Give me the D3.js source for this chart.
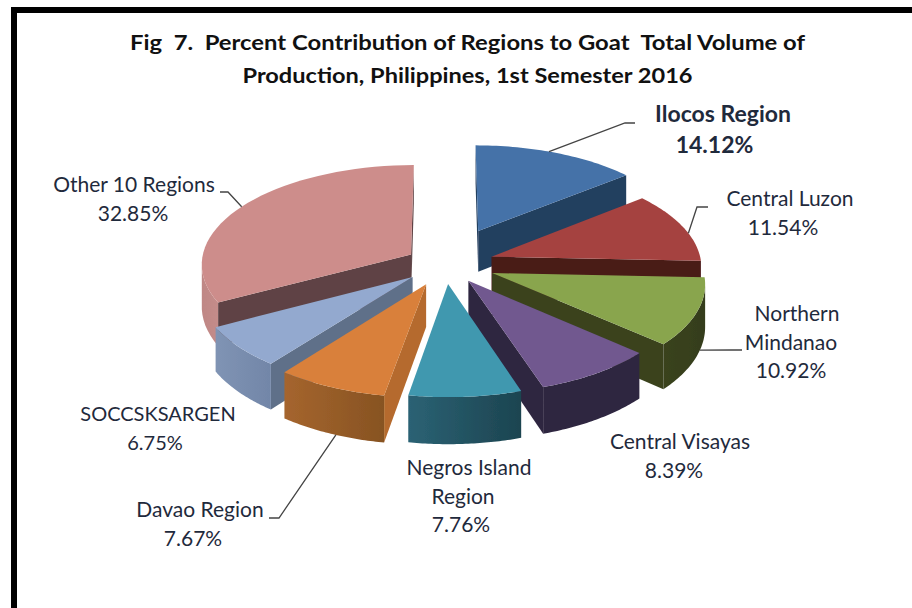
<!DOCTYPE html>
<html>
<head>
<meta charset="utf-8">
<script src="https://cdn.jsdelivr.net/npm/d3@7"></script>
<style>
  html, body { margin: 0; padding: 0; background: #fff; overflow: hidden; }
  text { font-family: Lato, "Open Sans", sans-serif; fill: #1f2a3c; white-space: pre; }
</style>
</head>
<body>
<div id="chart"></div>
<script>
let width = 912
let height = 608

// data, clockwise from 12 o'clock
const regions = ["Ilocos Region", "Central Luzon", "Northern Mindanao", "Central Visayas",
                 "Negros Island Region", "Davao Region", "SOCCSKSARGEN", "Other 10 Regions"];
const shares = [14.12, 11.54, 10.92, 8.39, 7.76, 7.67, 6.75, 32.85];
const titleLines = ["Fig  7.  Percent Contribution of Regions to Goat  Total Volume of",
                    "Production, Philippines, 1st Semester 2016"];

// look of each slice: top, wall light end, wall dark end, end-cut wall
const topColors  = ["#4472a8", "#a54340", "#89a54e", "#71588f", "#4198af", "#d9803a", "#93a9cf", "#cd8d8b"];
const wallFrom   = ["#243f5f", "#4a1a18", "#3a431f", "#2e2540", "#2b6274", "#a5652e", "#8094b4", "#bf8785"];
const wallTo     = ["#243f5f", "#4a1a18", "#353d1c", "#2e2540", "#1c4450", "#875322", "#7286a8", "#c48c8a"];
const cutColors  = ["#243f5f", "#4a1a18", "#3a431f", "#2e2540", "#245462", "#b56b2d", "#5f7089", "#5e4344"];

// pulled out distance of each slice, and painter order (back to front)
const explode = [0.38, 0.235, 0.24, 0.2, 0.2, 0.22, 0.2, 0.19];
const paintOrder = [7, 0, 1, 6, 2, 5, 3, 4];

// projection of the tilted disc
const cx = 445, cy = 264, rx = 210, ry = 99, persp = 0.09, depth = 42;

function project(x, d, h) {
  let w = 1 - persp * d;
  return [cx + rx * x / w, cy + (ry * d + depth * h) / w];
}

const pie = d3.pie().sort(null).value(d => d)
const arcs = pie(shares)

// a point of slice i: radius r at angle a, h=0 top face, h=1 bottom
function slicePoint(i, r, a, h) {
  let mid = (arcs[i].startAngle + arcs[i].endAngle) / 2
  let x = explode[i] * Math.sin(mid) + r * Math.sin(a)
  let d = -explode[i] * Math.cos(mid) - r * Math.cos(a)
  return project(x, d, h)
}

function rimAngles(i) {
  return d3.range(0, 41).map(k => arcs[i].startAngle + (arcs[i].endAngle - arcs[i].startAngle) * k / 40)
}

const line = d3.line()

const svg = d3.select("#chart").append("svg")
  .attr("width", width)
  .attr("height", height)

let defs = svg.append("defs")
defs.append("filter").attr("id", "soft")
  .attr("x", "-5%").attr("y", "-5%").attr("width", "110%").attr("height", "110%")
  .append("feGaussianBlur").attr("stdDeviation", 0.5)

svg.append("rect").attr("width", width).attr("height", height).attr("fill", "#fff")

// the black frame runs off the right and bottom of the picture
svg.append("path")
  .attr("d", "M14," + (height + 10) + "V10H" + (width + 10))
  .attr("fill", "none")
  .attr("stroke", "#000")
  .attr("stroke-width", 6)

const titleWidths = [675, 450]
svg.selectAll("text.title")
  .data(titleLines)
  .join("text")
  .attr("class", "title")
  .attr("x", 467.5)
  .attr("y", (d, i) => 50 + i * 33)
  .attr("text-anchor", "middle")
  .attr("font-size", 21.5)
  .attr("font-weight", 700)
  .attr("textLength", (d, i) => titleWidths[i])
  .attr("lengthAdjust", "spacingAndGlyphs")
  .style("fill", "#111")
  .text(d => d)

function isFront(q) {
  return d3.polygonArea(q) > 0
}

let slices = svg.append("g").attr("class", "slices").attr("filter", "url(#soft)")

paintOrder.forEach(function(i) {
  let g = slices.append("g")
  let angles = rimAngles(i)
  let a0 = arcs[i].startAngle, a1 = arcs[i].endAngle

  // two cut walls
  ;[a0, a1].forEach(function(a) {
    let q = a === a0
      ? [slicePoint(i, 0, a, 0), slicePoint(i, 1, a, 0), slicePoint(i, 1, a, 1), slicePoint(i, 0, a, 1)]
      : [slicePoint(i, 1, a, 0), slicePoint(i, 0, a, 0), slicePoint(i, 0, a, 1), slicePoint(i, 1, a, 1)]
    if (isFront(q)) g.append("path").attr("d", line(q) + "Z").attr("fill", cutColors[i])
  })

  // rim wall: only the part of the rim that faces the viewer, shaded left to right
  let visible = d3.pairs(angles).filter(p => isFront([
    slicePoint(i, 1, p[0], 0), slicePoint(i, 1, p[1], 0), slicePoint(i, 1, p[1], 1), slicePoint(i, 1, p[0], 1)
  ]))
  if (visible.length) {
    let rim = visible.map(p => p[0]).concat([visible[visible.length - 1][1]])
    let wall = rim.map(a => slicePoint(i, 1, a, 0)).concat(rim.slice().reverse().map(a => slicePoint(i, 1, a, 1)))
    let xs = d3.extent(wall, p => p[0])
    let grad = defs.append("linearGradient")
      .attr("id", "wall" + i)
      .attr("gradientUnits", "userSpaceOnUse")
      .attr("x1", xs[0]).attr("x2", xs[1]).attr("y1", 0).attr("y2", 0)
    grad.append("stop").attr("offset", 0).attr("stop-color", wallFrom[i])
    grad.append("stop").attr("offset", 1).attr("stop-color", wallTo[i])
    g.append("path").attr("d", line(wall) + "Z").attr("fill", "url(#wall" + i + ")")
  }

  // top face
  let top = [slicePoint(i, 0, a0, 0)].concat(angles.map(a => slicePoint(i, 1, a, 0)))
  g.append("path").attr("d", line(top) + "Z").attr("fill", topColors[i])
})

// leader lines: label side knee, then onto the rim at a chosen spot of the slice
const leaderKnees = {
  0: [[635, 123], [625, 123]],
  1: [[708, 207], [697, 207]],
  2: [[742, 350], [732, 350]],
  5: [[269, 518], [279, 518]],
  7: [[220, 192], [228, 192]]
}
const leaderAngle = { 0: 0.45, 1: 0.6, 2: 0.42, 5: 0.45, 7: 0.5 }

Object.keys(leaderKnees).forEach(function(k) {
  let i = +k
  let a = arcs[i].startAngle + (arcs[i].endAngle - arcs[i].startAngle) * leaderAngle[k]
  let h = (i === 2 || i === 5) ? 1 : 0
  let pts = leaderKnees[k].concat([slicePoint(i, 1, a, h)])
  svg.append("path")
    .attr("d", line(pts))
    .attr("fill", "none")
    .attr("stroke", "#444")
    .attr("stroke-width", 1.3)
})

// data labels, placed by hand like the original: first baseline and row centres
const labelBaselines = [122, 206, 321, 449, 475, 517, 421, 192]
const labelCentres = [[723, 714.5], [790, 783], [797, 791, 791], [680, 674], [469, 463, 461], [200, 193], [158, 155], [134, 133]]
const labelBreaks = [["Ilocos Region"], ["Central Luzon"], ["Northern", "Mindanao"], ["Central Visayas"],
                     ["Negros Island", "Region"], ["Davao Region"], ["SOCCSKSARGEN"], ["Other 10 Regions"]]

regions.forEach(function(name, i) {
  let rows = labelBreaks[i].concat([shares[i].toFixed(2) + "%"])
  svg.selectAll("text.l" + i)
    .data(rows)
    .join("text")
    .attr("class", "l" + i)
    .attr("x", (d, j) => labelCentres[i][j])
    .attr("y", (d, j) => labelBaselines[i] + j * (i === 0 ? 30.5 : 28.6))
    .attr("text-anchor", "middle")
    .attr("font-size", i === 0 ? 23 : (i === 6 ? 20 : 21))
    .attr("font-weight", i === 0 ? 700 : 400)
    .text(d => d)
})
</script>
</body>
</html>
